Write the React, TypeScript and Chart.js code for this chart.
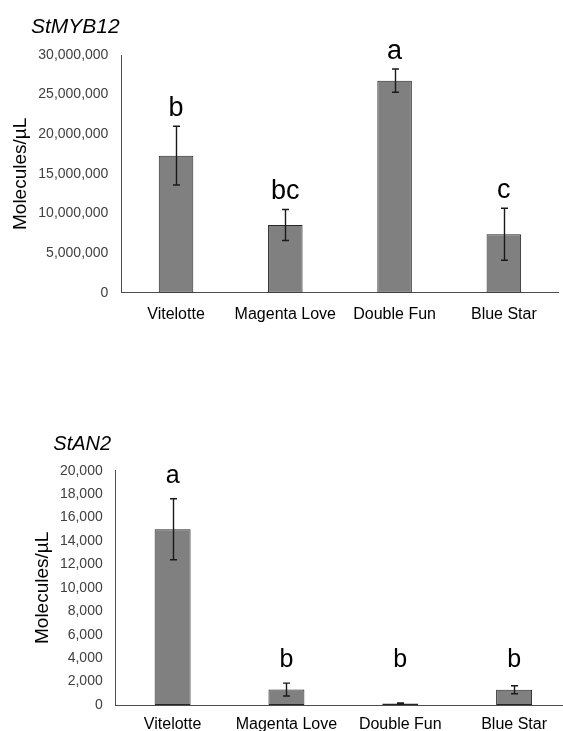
import React, { useEffect, useRef } from "react";
import { Chart, registerables } from "chart.js";

Chart.register(...registerables);

const FONT = "'Liberation Sans', Arial, Helvetica, sans-serif";

// ---- data ----
const cultivars = ["Vitelotte", "Magenta Love", "Double Fun", "Blue Star"];

const myb12Means = [17300000, 8540000, 26760000, 7370000];
const myb12Errors = [3700000, 1960000, 1470000, 3280000];
const myb12Letters = ["b", "bc", "a", "c"];
const myb12Ticks = [0, 5000000, 10000000, 15000000, 20000000, 25000000, 30000000];

const an2Means = [15000, 1320, 120, 1300];
const an2Errors = [2600, 550, 60, 340];
const an2Letters = ["a", "b", "b", "b"];
const an2Ticks = [0, 2000, 4000, 6000, 8000, 10000, 12000, 14000, 16000, 18000, 20000];

const yTitle = "Molecules/µL";

// ---- plugin: error bars, significance letters, italic gene title ----
const annotPlugin = {
  id: "annot",
  afterDatasetsDraw(chart: any, _args: any, opts: any) {
    const { ctx } = chart;
    const yScale = chart.scales.y;
    const meta = chart.getDatasetMeta(0);
    const means: number[] = opts.means;
    const errs: number[] = opts.errors;
    const letters: string[] = opts.letters;
    const cap = opts.cap;
    ctx.save();
    ctx.strokeStyle = "#1a1a1a";
    ctx.lineWidth = opts.errWidth;
    const tops: number[] = [];
    meta.data.forEach((bar: any, i: number) => {
      const x = Math.round(bar.x) + 0.5;
      const yT = yScale.getPixelForValue(means[i] + errs[i]);
      const yB = yScale.getPixelForValue(Math.max(0, means[i] - errs[i]));
      tops.push(yT);
      ctx.beginPath();
      ctx.moveTo(x, yT);
      ctx.lineTo(x, yB);
      ctx.moveTo(x - cap, yT);
      ctx.lineTo(x + cap, yT);
      ctx.moveTo(x - cap, yB);
      ctx.lineTo(x + cap, yB);
      ctx.stroke();
    });
    ctx.fillStyle = "#000";
    ctx.font = `${opts.letterSize}px ${FONT}`;
    ctx.textAlign = "center";
    ctx.textBaseline = "alphabetic";
    letters.forEach((L, i) => {
      let top = tops[i];
      letters.forEach((L2, j) => {
        if (L2 === L) top = Math.min(top, tops[j]);
      });
      ctx.fillText(L, meta.data[i].x, top - opts.letterGap);
    });
    ctx.font = `italic ${opts.titleSize}px ${FONT}`;
    ctx.textAlign = "left";
    ctx.fillText(opts.title, opts.titleX, opts.titleBaseline);
    ctx.restore();
  },
};

type GeneProps = {
  top: number;
  width: number;
  height: number;
  means: number[];
  errors: number[];
  letters: string[];
  ticks: number[];
  title: string;
  titleX: number;
  titleBaseline: number;
  titleSize: number;
  letterSize: number;
  letterGap: number;
  padTop: number;
  padRight: number;
  yWidth: number;
  yTitlePad: number;
  xHeight: number;
  xPad: number;
};

function GeneChart(p: GeneProps) {
  const ref = useRef<HTMLCanvasElement | null>(null);
  useEffect(() => {
    if (!ref.current) return;
    const maxTick = p.ticks[p.ticks.length - 1];
    const chart = new Chart(ref.current, {
      type: "bar",
      data: {
        labels: cultivars,
        datasets: [
          {
            data: p.means,
            backgroundColor: "#808080",
            borderColor: "#262626",
            borderWidth: 1,
            borderSkipped: false,
            barPercentage: 0.316,
            categoryPercentage: 1,
          },
        ],
      },
      options: {
        responsive: false,
        animation: false,
        devicePixelRatio: 1,
        layout: { padding: { left: 0, right: p.padRight, top: p.padTop, bottom: 0 } },
        plugins: {
          legend: { display: false },
          tooltip: { enabled: false },
          title: { display: false },
          annot: {
            means: p.means,
            errors: p.errors,
            letters: p.letters,
            cap: 3.5,
            errWidth: 1.4,
            letterSize: p.letterSize,
            letterGap: p.letterGap,
            title: p.title,
            titleX: p.titleX,
            titleBaseline: p.titleBaseline,
            titleSize: p.titleSize,
          },
        } as any,
        scales: {
          x: {
            grid: { display: false, drawTicks: false },
            border: { display: true, color: "#4d4d4d", width: 1 },
            ticks: {
              color: "#000",
              font: { family: FONT, size: 16 },
              padding: p.xPad,
              maxRotation: 0,
              autoSkip: false,
            },
            afterFit: (s: any) => {
              s.height = p.xHeight;
            },
          },
          y: {
            min: 0,
            max: maxTick,
            grid: { display: false, drawTicks: false },
            border: { display: true, color: "#4d4d4d", width: 1 },
            ticks: {
              color: "#404040",
              font: { family: FONT, size: 14 },
              padding: 13,
              callback: (v: any) => Number(v).toLocaleString("en-US"),
            },
            afterBuildTicks: (s: any) => {
              s.ticks = p.ticks.map((v) => ({ value: v }));
            },
            title: {
              display: true,
              text: yTitle,
              color: "#000",
              font: { family: FONT, size: 19 },
              padding: { top: p.yTitlePad, bottom: 0 },
            },
            afterFit: (s: any) => {
              s.width = p.yWidth;
            },
          },
        },
      } as any,
      plugins: [annotPlugin as any],
    });
    return () => chart.destroy();
  }, []);
  return (
    <canvas
      ref={ref}
      width={p.width}
      height={p.height}
      style={{ position: "absolute", left: 0, top: p.top, width: p.width, height: p.height, display: "block" }}
    />
  );
}

export default function App() {
  return (
    <div
      style={{
        position: "fixed",
        left: 0,
        top: 0,
        width: 563,
        height: 731,
        overflow: "hidden",
        background: "#fff",
      }}
    >
      <GeneChart
        top={0}
        width={563}
        height={340}
        means={myb12Means}
        errors={myb12Errors}
        letters={myb12Letters}
        ticks={myb12Ticks}
        title="StMYB12"
        titleX={31}
        titleBaseline={32.7}
        titleSize={21}
        letterSize={27}
        letterGap={10.5}
        padTop={55}
        padRight={4.5}
        yWidth={121.4}
        yTitlePad={9.6}
        xHeight={47.3}
        xPad={12.4}
      />
      <GeneChart
        top={380}
        width={585}
        height={380}
        means={an2Means}
        errors={an2Errors}
        letters={an2Letters}
        ticks={an2Ticks}
        title="StAN2"
        titleX={53.3}
        titleBaseline={70}
        titleSize={20}
        letterSize={25}
        letterGap={16}
        padTop={90.7}
        padRight={14}
        yWidth={115.7}
        yTitlePad={31}
        xHeight={55}
        xPad={9.5}
      />
    </div>
  );
}
